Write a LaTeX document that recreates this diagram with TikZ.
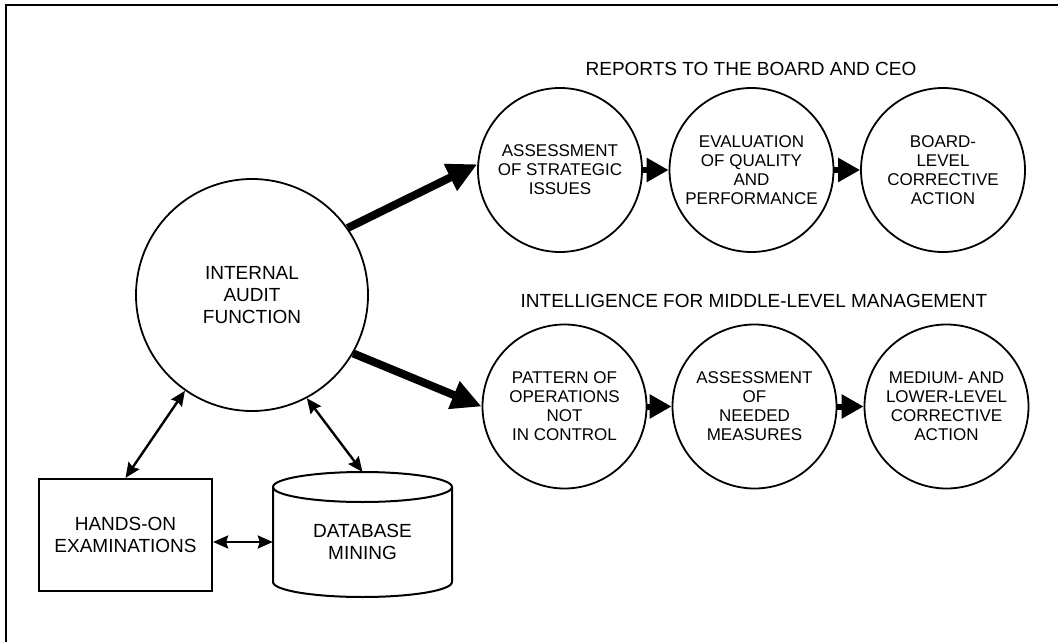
\documentclass[tikz,border=0pt]{standalone}
\usepackage{fontspec}
\setmainfont{Liberation Sans}
\usetikzlibrary{arrows.meta}
\begin{document}
\begin{tikzpicture}[x=1pt,y=-1pt,
  circ/.style={draw, line width=1.8pt, circle, minimum size=164pt, inner sep=0pt,
    align=center, font=\fontsize{17}{19}\selectfont},
  bigcirc/.style={circ, minimum size=232pt, font=\fontsize{19}{22}\selectfont},
  header/.style={font=\fontsize{19}{22}\selectfont, inner sep=0pt},
  boxnode/.style={draw, line width=2.2pt, minimum width=173pt, minimum height=112pt,
    inner sep=0pt, align=center, font=\fontsize{19}{22.5}\selectfont},
  dbnode/.style={minimum width=179pt, minimum height=20pt, inner sep=0pt,
    align=center, font=\fontsize{19}{21.5}\selectfont},
  cyl/.style={line width=2pt},
  bigarrow/.style={line width=8pt, -{Triangle[length=30pt,width=28pt]}},
  smallarrow/.style={line width=6pt, -{Triangle[length=22pt,width=23pt]}},
  dblarrow/.style={line width=2.4pt, {Stealth[length=15pt,width=13pt,inset=2pt]}-{Stealth[length=15pt,width=13pt,inset=2pt]}},
  frame/.style={line width=2.5pt}
]
\useasboundingbox (0,0) rectangle (1058,642);
% partial frame
\draw[frame] (6,642) -- (6,5) -- (1058,5);

% headers
\node[header] (h1) at (751,69) {REPORTS TO THE BOARD AND CEO};
\node[header] (h2) at (754,301) {INTELLIGENCE FOR MIDDLE-LEVEL MANAGEMENT};

% main circle
\node[bigcirc] (iaf) at (252,295) {INTERNAL\\AUDIT\\FUNCTION};

% top row
\node[circ] (c1) at (560,170) {ASSESSMENT\\OF STRATEGIC\\ISSUES};
\node[circ] (c2) at (751.5,170) {EVALUATION\\OF QUALITY\\AND\\PERFORMANCE};
\node[circ] (c3) at (943,170) {BOARD-\\LEVEL\\CORRECTIVE\\ACTION};

% bottom row
\node[circ] (c4) at (564.5,406.5) {PATTERN OF\\OPERATIONS\\NOT\\IN CONTROL};
\node[circ] (c5) at (754.5,406.5) {ASSESSMENT\\OF\\NEEDED\\MEASURES};
\node[circ] (c6) at (946.5,406.5) {MEDIUM- AND\\LOWER-LEVEL\\CORRECTIVE\\ACTION};

% hands-on box
\node[boxnode] (hoe) at (125.5,535) {HANDS-ON\\EXAMINATIONS};

% database cylinder
\draw[cyl] (273,487) -- (273,582) arc[start angle=180, end angle=360, x radius=89.5pt, y radius=15pt] -- (452,487);
\draw[cyl] (362.5,487) ellipse [x radius=89.5pt, y radius=15pt];
\node[dbnode] (db) at (362.5,542) {DATABASE\\MINING};
\coordinate (dbtop) at (362.5,472);

% connectors
\draw[bigarrow] (iaf.35) -- (c1.176);
\draw[bigarrow] (iaf.-30) -- (c4.west);
\draw[smallarrow] (c1.east) -- (c2.west);
\draw[smallarrow] (c2.east) -- (c3.west);
\draw[smallarrow] (c4.east) -- (c5.west);
\draw[smallarrow] (c5.east) -- (c6.west);
\draw[dblarrow] (iaf.235) -- (hoe.north);
\draw[dblarrow] (iaf.298) -- (dbtop);
\draw[dblarrow] (db.west -| hoe.east) -- (db.west);
\end{tikzpicture}
\end{document}
